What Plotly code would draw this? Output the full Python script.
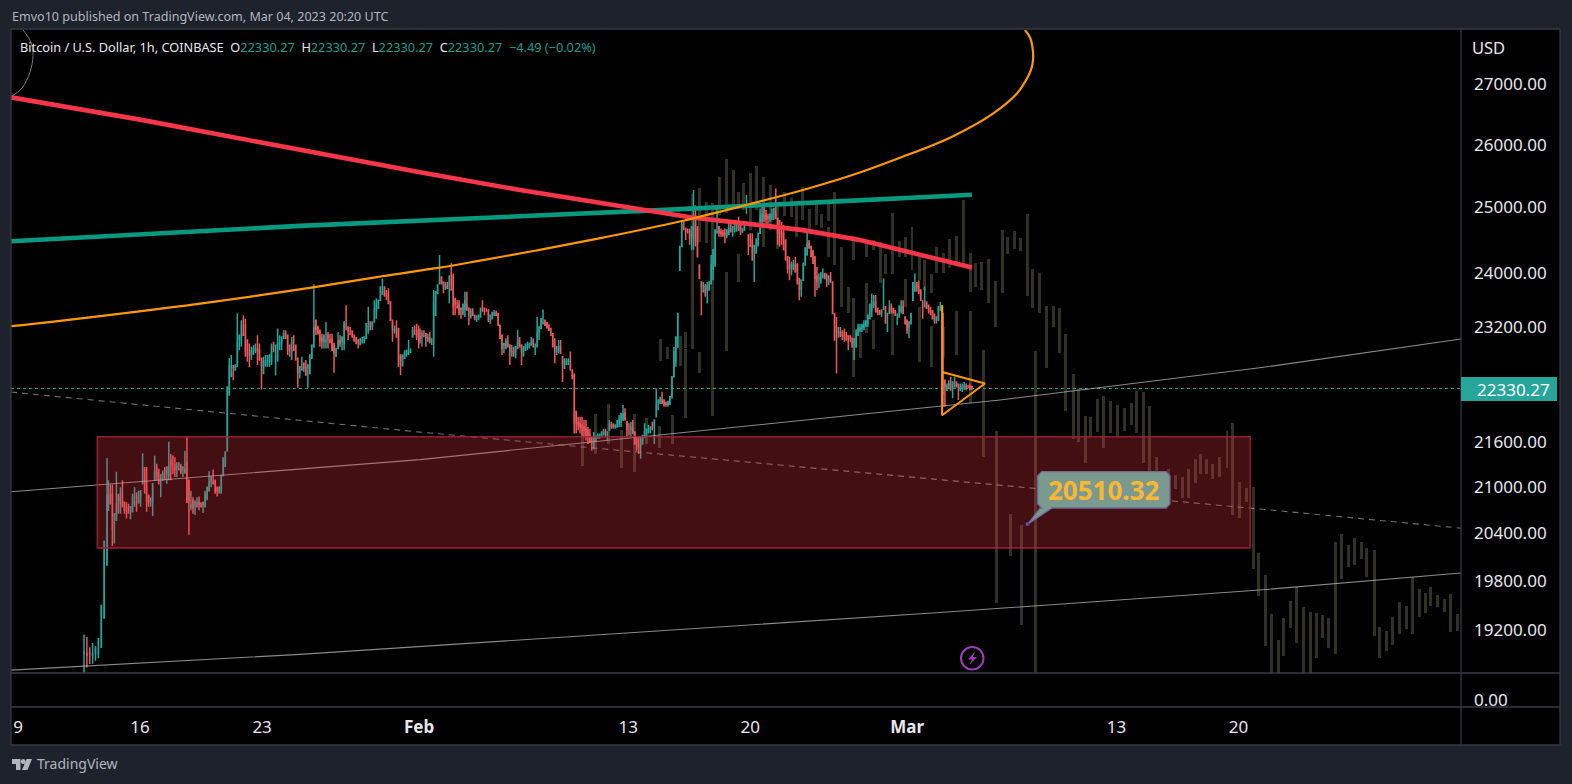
import numpy as np
import pandas as pd
import plotly.graph_objects as go

W, H = 1572, 784
PX0, PX1 = 11, 1461          # chart pane, page pixels
PY0, PY1, PY2, PY3 = 30, 673, 707, 745

jan_a_high = [19150,19120,19000,19050,19010,19100,19500,20300,21380]
jan_a_low  = [18700,18760,18800,18800,18840,18870,19000,19350,20000]
jan_b_high = [21085,21030,21030,20650,21200,20910,20995,21085,20800,20800,20780,20740,20910,20995,20930,20950,20950,21445,21260,21260,
              20890,20865,21040,21410,21305,21240,21170,21215,21260,21260,21600,21435,21415,21390,21325,21325,21305,21260,21480,21660,
              21085,20950,20865,20825,20865,20875,20800,20800,20950,20995,21205,21130,21230,21085,20995,20995,21150,21390,21460,22350,
              22755,22800,22660,22660,23400,23085,23300,23375,23325,23015,22965,22920,22940,22965,23085,22965,22755,22775,22800,22800,
              22800,22965,22990,22940,23180,23085,23060,23155,23155,23085,22940,23060,23085,22940,22755,22635,22775,22685,22730,22660,
              22800,22940,23830,23300,23225,23155,23105,23085,23275,23130,23105,23105,22965,22895,23130,23085,23060,23275,23520,23205,
              23205,23155,23085,23060,23025,23050,23060,23060,23250,23500,23275,23275,23595,23620,23595,23790,23915,23790,23745,23770,
              23570,23300,23225,23300,23180,22800,22800,22870,22870,23015,22895,23205,23225,23250,23225]
jan_b_low  = [20695,20780,20240,20270,20565,20650,20650,20740,20650,20590,20650,20580,20675,20740,20675,20780,20740,21040,20910,20675,
              20740,20740,20620,21085,21085,21040,20865,21085,21085,21040,21085,21085,21170,21130,21130,21215,21170,21130,21170,20800,
              20380,20695,20650,20635,20740,20695,20740,20660,20740,20825,20950,20995,21040,20910,20875,20910,20910,21150,21260,21480,
              22240,22495,22445,22590,22640,22870,22920,23085,22775,22705,22630,22730,22800,22825,22660,22730,22315,22540,22635,22635,
              22635,22660,22845,22510,22705,22870,22870,23040,23040,22800,22775,22730,22870,22730,22340,22470,22590,22565,22520,22340,
              22540,22755,22920,23085,23105,22920,22895,22895,22895,22895,22965,22870,22550,22785,22895,22920,22870,22870,23155,23015,
              23085,23060,22990,22965,22895,22940,22965,22965,23040,23105,23155,23155,23275,23325,23475,23595,23670,23645,23595,23545,
              23300,22990,23105,23060,22630,22520,22635,22755,22775,22800,22825,23060,23085,23015,22895]
feb_c_high = [23180,23155,23155,23105,23105,23130,23040,23745,23720,23820,24270,23940,23865,23865,23865,23965,24145,23990,23620,23595,
              23595,23475,23545,23720,23720,23475,23475,23475,23375,23375,23375,23475,23595,23475,23475,23450,23375,23425,23450,23440,
              23400,23230,23085,22965,23040,23085,22945,22945,22920,22920,23165,23060,22945,22920,22965,22990,22965,23060,23040,22965,
              23350,23205,23325,23460,23300,23275,23230,23180,23105,23040,22920,23015,23015,22775,22755,22755,22755,22850,22590,22540,
              22010,21940,21940,21940,21895,21895,21800,21775,21660,21730,21685,21710,21710,21730,21775,21775,21730,21895,21870,21850,
              21825,21895,21960,21985,22100,22055,21870,21850,21870,21895,21730,21660,21660,21660,21685,21850,21775,21825,21800,21870,
              21895,22330,22170,22215,22285,22170,22150,22150,22215]
feb_c_low  = [22965,22920,23060,22920,22990,22965,22945,22775,23375,23695,23840,23840,23695,23745,23770,23545,23745,23375,23375,23475,
              23375,23325,23375,23350,23450,23230,23325,23375,23300,23275,23300,23350,23425,23375,23425,23275,23250,23325,23375,23375,
              23230,23040,22800,22825,22895,22920,22660,22775,22775,22755,22895,22920,22660,22775,22870,22870,22895,22945,22920,22800,
              22920,23015,23180,23250,23230,23180,23155,23085,22920,22685,22800,22825,22825,22420,22615,22660,22660,22590,22470,21710,
              21710,21755,21710,21660,21660,21615,21570,21595,21480,21500,21615,21640,21640,21660,21685,21660,21615,21755,21775,21775,
              21775,21800,21800,21800,21895,21895,21660,21685,21660,21710,21570,21480,21435,21370,21570,21660,21685,21710,21710,21755,
              21570,21940,22030,22125,22125,22075,22075,22075,22100]
feb_d_high = [22495,22915,23060,23400,24400,24805,24805,24675,24675,24675,24700,25275,25035,24700,24120,23865,23865,23840,23865,23865,
              24270,24350,24650,25035,24700,24675,24650,24675,24650,24750,24750,24700,24780,24730,24855,24730,24675,24780,25195,24575,
              24600,24600,24425,24525,24600,24985,25010,25010,24960,24905,24905,24985,24985,25300,24830,24805,24780,24730,24500,24245,
              24245,24170,24195,24245,24145,23915,23890,24145,24375,24625,24500,24400,24350,24245,24090,23990,24015,24065,23990,23990,
              23965,24015,23865,23400,23350,23205,23205,23155,23180,23130,23085,23085,23040,23040,23155,23250,23250,23250,23300,23300,
              23375,23545,23695,23670,23670,23475,23450,23450,23915,23500,23400,23595,23545,23475,23450,23400,23520,23595,23595,23350,
              23300,23275,23400,23865,23990,23865,23890,23745,23595,23795,23570,23520,23500,23450,23400,23350,23500,23570,23520]
feb_d_low  = [22200,22495,22635,22915,24040,24400,24650,24500,24600,24425,24350,24350,24400,24245,23915,23375,23720,23645,23545,23745,
              23840,23890,24090,24610,24550,24550,24550,24450,24525,24575,24625,24550,24625,24625,24650,24575,24600,24650,24905,24270,
              24400,24195,23865,24300,24400,24600,24730,24780,24750,24730,24780,24805,24805,24830,24425,24400,24425,24350,24195,23990,
              23890,23965,24040,24015,23840,23595,23645,23890,24120,24270,24375,24245,24145,23645,23745,23770,23840,23915,23915,23795,
              23820,23865,23400,23015,22540,23060,23060,23015,22990,23015,22870,22990,22915,22730,22915,23085,23130,23130,23155,23205,
              23205,23325,23350,23475,23425,23375,23375,23350,23450,23250,23130,23400,23400,23400,23375,23230,23350,23400,23400,23250,
              23105,23040,23250,23595,23720,23720,23695,23595,23325,23500,23475,23400,23375,23325,23250,23250,23300,23450,23400]
mar_e_high = [23400,22445,22400,22445,22495,22420,22495,22420,22400,22400,22400,22420,22400,22380,22400,22355]
mar_e_low  = [22075,22075,22305,22330,22305,22195,22355,22355,22170,22305,22280,22305,22305,22330,22305,22305]
section_spans = [("2023-01-12 18:50","2023-01-14 02:30"),("2023-01-14 04:20","2023-01-31 23:30"),
                 ("2023-02-01 01:20","2023-02-15 09:20"),("2023-02-15 12:10","2023-03-03 00:15"),
                 ("2023-03-03 01:10","2023-03-04 17:00")]

# ---------- ghost "bars pattern" drawn across the chart ----------
ghost_slot = [0,2,4,6,8,10,12,14,12.2,13.3,15.3,16.1,16.1,17.2,18.3,18.3,19.3,20.3,21.3,22.4,22.4,23.5,24.4,24.4,25.2,26.3,27.2,28.3,29.3,30.4,
              31.5,32.6,33.5,34.4,35.4,36.5,37.4,38.5,38.5,39.4,40.4,41.5,42.4,42.4,43.5,44.4,44.4,45.4,45.4,46.5,47.4,48.5,48.5,49.5,50.5,50.5,51.5,52.6,52.6,53.4,
              54.5,54.5,55.4,56.5,56.5,57.4,58.5,58.5,59.6,60.6,60.6,61.5,62.4,62.7,63.5,64.5,64.8,65.6,66.5,66.9,67.6,68.5,68.7,69.6,70.4,70.9,71.5,72.5,73.6,74.6,
              75.6,76.7,77.6,78.7,79.5,80.6,81.5,82.6,83.7,84.7,85.8,86.7,87.8,88.6,89.7,90.8,91.7,92.7,93.8,94.7,95.8,96.7,97.6,98.6,99.7,100.8,101.7,102.8,103.8,104.9,
              105.8,106.9,107.8,108.8,109.7,110.8,111.7,112.8,113.9,114.8,115.7,116.7,117.8,118.7,119.8,120.7,121.8,122.7,123.9,124.6,125.7,126.7,127.8,128.9,129.8,130.9,131.8,132.7,133.7,134.8,135.8,136.9]
ghost_high = [21755,21975,22115,21755,21975,21920,21810,21960,23030,22910,23070,23125,22885,25220,25310,22840,25085,25070,25485,25770,24010,25595,25245,24290,25390,25550,25660,25485,25355,25070,
              25245,25150,25040,25325,24975,25085,24900,25055,24695,25245,24395,23790,24560,23625,23155,24500,23845,24500,23300,24470,24290,24915,23420,24485,24545,23905,24695,24240,23490,24195,
              23980,23220,24395,24305,23200,24515,24560,23435,25115,24305,23435,24150,24165,22870,24210,23875,21740,24650,24545,20645,24635,24530,20510,24900,24055,22855,23995,23505,23505,23480,
              23100,22530,22320,21950,21935,22180,22220,22155,22100,22060,22130,22290,22275,22085,21400,21215,21230,21150,21135,21230,21365,21430,21365,21300,21400,21740,21850,21060,20990,21000,
              20145,19875,19400,19090,19350,19560,19725,19485,19425,19415,19390,19350,20285,20385,20245,20345,20285,20210,20185,19240,19195,19360,19545,19500,19850,19700,19655,19725,19630,19580,19640,19400]
ghost_low  = [21270,21440,21575,21255,21200,21575,21520,21575,22715,22745,22645,22900,21920,22885,24470,22550,24455,21950,24890,24915,22860,25000,25000,23860,24960,24650,24960,24395,24650,24365,
              24865,24850,24545,24805,24650,24730,24680,24790,24240,24120,23490,23405,24195,22490,22760,24240,23110,24350,22885,23845,23980,23980,22800,24240,24240,23490,24040,23890,22700,23745,
              23700,22630,23995,23995,22760,24070,24150,22800,24120,23715,22130,23790,23745,21400,23550,23200,19535,23700,24290,20110,24365,24335,19270,23655,23480,18600,23405,22620,23200,22830,
              22015,21640,21590,21310,21660,21730,21520,21715,21660,21740,21825,21715,21310,21175,21125,20950,20990,20975,20860,20860,21045,21175,21175,21100,21135,21255,20630,20590,20800,19945,
              19620,19010,18600,18600,18900,19230,19055,18600,18600,18870,19105,18985,18925,19820,19970,20000,20070,19850,19135,18870,18950,19020,19160,19220,19160,19360,19415,19500,19485,19425,19185,19195]
ghost_origin = pd.Timestamp("2023-02-10 09:36")
ghost_step_hours = 8.795

# ---------- drawn trend lines ----------
red_dates = ["2023-01-08 14:21","2023-01-16 00:00","2023-02-01 01:20","2023-02-06 19:00","2023-02-16 13:00","2023-02-23 00:30","2023-02-26 07:00","2023-02-28 04:30","2023-03-04 17:00"]
red_price = [26780,26410,25555,25275,24850,24650,24500,24380,24080]
green_dates = ["2023-01-08 14:21","2023-01-25 04:00","2023-02-14 19:40","2023-03-04 17:00"]
green_price = [24480,24715,24960,25200]
orange_dates = ["2023-01-08 14:21","2023-01-11 09:50","2023-01-19 10:30","2023-01-25 22:00","2023-01-29 21:00","2023-02-02 02:00","2023-02-04 12:00",
                "2023-02-07 18:30","2023-02-11 13:15","2023-02-16 03:20","2023-02-19 23:30","2023-02-23 00:30","2023-02-25 17:15","2023-02-28 14:00",
                "2023-03-03 10:50","2023-03-05 22:00","2023-03-07 07:00","2023-03-07 21:00","2023-03-08 03:00","2023-03-08 05:00","2023-03-08 05:00",
                "2023-03-08 01:00","2023-03-07 18:00"]
orange_price = [23215,23293,23545,23785,23950,24075,24185,24340,24535,24795,25055,25275,25500,25790,26115,26510,26845,27100,27270,27395,27570,27800,27930]
upper_dates = ["2023-01-08 14:21","2023-02-01 01:20","2023-03-06 07:40","2023-03-21 05:30","2023-04-01 18:14"]
upper_price = [20935,21360,22170,22620,23030]
dash_dates = ["2023-01-08 14:21","2023-02-01 01:20","2023-03-20 20:00","2023-04-01 18:14"]
dash_price = [22280,21730,20720,20465]
lower_dates = ["2023-01-08 14:21","2023-01-25 04:00","2023-03-02 21:00","2023-03-21 05:30","2023-04-01 18:14"]
lower_price = [18730,18915,19415,19690,19900]
arc_dates = ["2023-01-08 14:21","2023-01-09 05:30","2023-01-09 16:30","2023-01-09 20:40","2023-01-09 18:00","2023-01-09 07:00"]
arc_price = [26790,26935,27205,27490,27710,27930]
triangle_dates = ["2023-03-03 00:00","2023-03-03 00:00","2023-03-05 11:00","2023-03-03 00:00"]
triangle_price = [23520,21960,22400,22560]

last_price = 22330.27
zone_dates = ["2023-01-13 13:10","2023-03-20 16:00"]
zone_price = [20215,21667]
x_range = ["2023-01-08 14:21","2023-04-01 18:14"]
y_range = [18696,27930]

price_ticks = [27000,26000,25000,24000,23200,21600,21000,20400,19800,19200]
price_labels = ["27000.00","26000.00","25000.00","24000.00","23200.00","21600.00","21000.00","20400.00","19800.00","19200.00"]
time_ticks = ["2023-01-09","2023-01-16","2023-01-23","2023-02-01","2023-02-13","2023-02-20","2023-03-01","2023-03-13","2023-03-20"]
time_labels = ["9","16","23","<b>Feb</b>","13","20","<b>Mar</b>","13","20"]

# ---------- assemble candles ----------
highs = [jan_a_high, jan_b_high, feb_c_high, feb_d_high, mar_e_high]
lows = [jan_a_low, jan_b_low, feb_c_low, feb_d_low, mar_e_low]
times = []
for (a, b), h in zip(section_spans, highs):
    times.extend(pd.date_range(a, b, periods=len(h)))
hi = np.concatenate([np.array(h, float) for h in highs])
lo = np.concatenate([np.array(l, float) for l in lows])
mid = (hi + lo) / 2
op = np.clip(np.r_[mid[0], mid[:-1]], lo, hi)
cl = np.clip(np.r_[mid[1:], last_price], lo, hi)

UP, DOWN = "#26a69a", "#f0575a"
FONT = "Noto Sans"
fig = go.Figure()

# ghost bars
gx = [ghost_origin + pd.Timedelta(hours=ghost_step_hours * s) for s in ghost_slot]
fig.add_trace(go.Bar(x=gx, y=[a - b for a, b in zip(ghost_high, ghost_low)], base=ghost_low,
                     width=4.1 * 3600e3, marker=dict(color="rgba(150,150,110,0.33)", line=dict(width=0)),
                     xaxis="x", yaxis="y", hoverinfo="skip", showlegend=False))
# candles
fig.add_trace(go.Candlestick(x=times, open=op, high=hi, low=lo, close=cl, xaxis="x", yaxis="y",
                             increasing=dict(line=dict(color=UP, width=1.5), fillcolor=UP),
                             decreasing=dict(line=dict(color=DOWN, width=1.5), fillcolor=DOWN),
                             whiskerwidth=0, hoverinfo="skip", showlegend=False))

def line(dates, prices, color, width, dash="solid", shape="linear"):
    fig.add_trace(go.Scatter(x=dates, y=prices, mode="lines", xaxis="x", yaxis="y",
                             line=dict(color=color, width=width, dash=dash, shape=shape),
                             hoverinfo="skip", showlegend=False))

line(x_range, [last_price, last_price], "#26a69a", 1, "dot")
line(upper_dates, upper_price, "rgba(190,190,195,0.72)", 1.1)
line(dash_dates, dash_price, "rgba(170,170,180,0.65)", 1.1, "6px,5px")
line(lower_dates, lower_price, "rgba(190,190,195,0.72)", 1.1)
line(arc_dates, arc_price, "rgba(130,130,135,0.9)", 1, shape="spline")
line(green_dates, green_price, "#089981", 4.6)
line(red_dates, red_price, "#f7364a", 4.6)
line(orange_dates, orange_price, "#ff9800", 2.2, shape="spline")
line(triangle_dates, triangle_price, "#ff9800", 2)
# volume pane baseline (no volume shown)
fig.add_trace(go.Scatter(x=x_range, y=[0, 0], mode="lines", xaxis="x", yaxis="y2",
                         line=dict(color="rgba(0,0,0,0)", width=0), hoverinfo="skip", showlegend=False))

def px(x): return x / W
def py(y): return 1 - y / H
def pp(pts):  # pixel polygon to paper path
    return "M" + " L".join(f"{px(a):.5f},{py(b):.5f}" for a, b in pts) + " Z"

BORDER = "#363a45"
shapes = [
    dict(type="rect", xref="paper", yref="paper", x0=px(11), x1=px(1560), y0=py(745), y1=py(29),
         fillcolor="#000000", line=dict(width=0), layer="below"),
    # demand zone above the candles
    dict(type="rect", xref="x", yref="y", x0=zone_dates[0], x1=zone_dates[1], y0=zone_price[0], y1=zone_price[1],
         fillcolor="rgba(242,54,69,0.28)", line=dict(color="rgba(160,35,50,0.85)", width=1.6), layer="above"),
]
for x0, y0, x1, y1 in [(11, 29, 1560, 29), (11, 745, 1560, 745), (11, 29, 11, 745), (1560, 29, 1560, 745),
                       (11, 673, 1560, 673), (11, 707, 1560, 707), (1461, 29, 1461, 745)]:
    shapes.append(dict(type="line", xref="paper", yref="paper", x0=px(x0), x1=px(x1), y0=py(y0), y1=py(y1),
                       line=dict(color=BORDER, width=1.3), layer="above"))
# current price tag
shapes.append(dict(type="rect", xref="paper", yref="paper", x0=px(1461), x1=px(1557), y0=py(401), y1=py(377),
                   fillcolor="#26a69a", line=dict(width=0), layer="above"))
# callout body with pointer
r = 4
box = [(1037.7+r,471.7),(1170-r,471.7),(1170,471.7+r),(1170,508-r),(1170-r,508),(1052,508),(1028,524),(1040,508),
       (1037.7+r,508),(1037.7,508-r),(1037.7,471.7+r)]
shapes.append(dict(type="path", xref="paper", yref="paper", path=pp(box), fillcolor="#7a998f",
                   line=dict(color="#6f6a96", width=1.3), layer="above"))
shapes.append(dict(type="circle", xref="paper", yref="paper", x0=px(1025.5), x1=px(1029.5), y0=py(526), y1=py(522),
                   fillcolor="#5b4fa5", line=dict(width=0), layer="above"))
# lightning badge
shapes.append(dict(type="circle", xref="paper", yref="paper", x0=px(961), x1=px(983.5), y0=py(669.5), y1=py(647),
                   fillcolor="rgba(0,0,0,0)", line=dict(color="#9c3fb5", width=2), layer="above"))
shapes.append(dict(type="path", xref="paper", yref="paper",
                   path=pp([(975,651.5),(968,659.5),(972,659.5),(969.5,665),(977,657),(973,657)]),
                   fillcolor="#9c3fb5", line=dict(width=0), layer="above"))
# footer logo
LOGO = "#b2b5be"
shapes.append(dict(type="path", xref="paper", yref="paper",
                   path=pp([(12,759),(20.5,759),(20.5,770),(16,770),(16,764),(12,764)]),
                   fillcolor=LOGO, line=dict(width=0), layer="above"))
shapes.append(dict(type="circle", xref="paper", yref="paper", x0=px(20.8), x1=px(25.6), y0=py(764), y1=py(759),
                   fillcolor=LOGO, line=dict(width=0), layer="above"))
shapes.append(dict(type="path", xref="paper", yref="paper",
                   path=pp([(26.5,759),(32,759),(27.5,770),(22,770)]),
                   fillcolor=LOGO, line=dict(width=0), layer="above"))

def note(x, y, text, size, color, anchor="left", **kw):
    return dict(xref="paper", yref="paper", x=px(x), y=py(y), text=text, showarrow=False, xanchor=anchor,
                yanchor="middle", align=anchor, font=dict(family=FONT, size=size, color=color), **kw)

T = "#1d9c8f"
legend = ("Bitcoin / U.S. Dollar, 1h, COINBASE&nbsp;&nbsp;O" + f"<span style='color:{T}'>22330.27</span>&nbsp;&nbsp;H"
          + f"<span style='color:{T}'>22330.27</span>&nbsp;&nbsp;L" + f"<span style='color:{T}'>22330.27</span>&nbsp;&nbsp;C"
          + f"<span style='color:{T}'>22330.27</span>&nbsp;&nbsp;" + f"<span style='color:{T}'>−4.49 (−0.02%)</span>")
annotations = [
    note(9.5, 17, "Emvo10 published on TradingView.com, Mar 04, 2023 20:20 UTC", 12.55, "#b2b5be"),
    note(18, 47, legend, 12.75, "#e6e8ee"),
    note(1470, 47, "USD", 16.5, "#e6e8ee"),
    note(1475, 389, "22330.27", 17, "#ffffff"),
    note(1104, 490, "<b>20510.32</b>", 26, "#ffb733", anchor="center"),
    note(35, 763, "TradingView", 14, "#b2b5be"),
]

axis_font = dict(family=FONT, size=17, color="#e6e8ee")
fig.update_layout(
    width=W, height=H, margin=dict(l=0, r=0, t=0, b=0, pad=0, autoexpand=False),
    paper_bgcolor="#1e222d", plot_bgcolor="rgba(0,0,0,0)",
    barmode="overlay", bargap=0, hovermode=False, showlegend=False, dragmode=False,
    xaxis=dict(domain=[px(PX0), px(PX1)], type="date", range=x_range, anchor="y2", showgrid=False, zeroline=False,
               rangeslider=dict(visible=False), tickmode="array", tickvals=time_ticks, ticktext=time_labels,
               ticks="", tickfont=axis_font, ticklabelstandoff=8, showline=False, tickangle=0),
    yaxis=dict(domain=[py(PY1), py(PY0)], type="log", range=[np.log10(y_range[0]), np.log10(y_range[1])], side="right",
               anchor="x", showgrid=False, zeroline=False, tickmode="array", tickvals=price_ticks, ticktext=price_labels,
               ticks="", tickfont=axis_font, ticklabelstandoff=12, showline=False),
    yaxis2=dict(domain=[py(PY2), py(PY1)], range=[-7, 27], side="right", anchor="x", showgrid=False, zeroline=False,
                tickmode="array", tickvals=[0], ticktext=["0.00"], ticks="", tickfont=axis_font, ticklabelstandoff=12,
                showline=False),
    shapes=shapes, annotations=annotations,
)

fig.write_html("out.html", config=dict(displayModeBar=False, staticPlot=True),
               post_script="document.body.style.margin='0';document.body.style.overflow='hidden';document.body.style.background='#1e222d';")
